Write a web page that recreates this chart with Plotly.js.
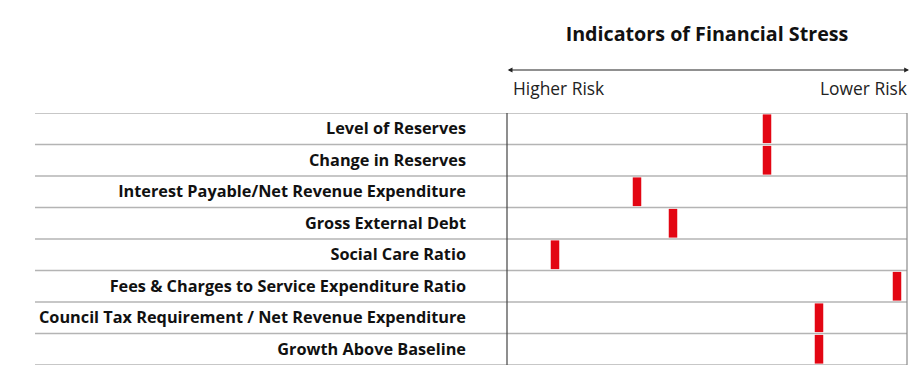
<!DOCTYPE html>
<html>
<head>
<meta charset="utf-8">
<script src="https://cdn.plot.ly/plotly-3.0.1.min.js"></script>
<style>html,body{margin:0;padding:0;background:#fff;}#chart{width:923px;height:378px;}</style>
</head>
<body>
<div id="chart"></div>
<script>
const indicators = [
  "Level of Reserves",
  "Change in Reserves",
  "Interest Payable/Net Revenue Expenditure",
  "Gross External Debt",
  "Social Care Ratio",
  "Fees & Charges to Service Expenditure Ratio",
  "Council Tax Requirement / Net Revenue Expenditure",
  "Growth Above Baseline"
];
const position = [65, 65, 32.5, 41.5, 12, 97.5, 78, 78];
const chartTitle = "Indicators of Financial Stress";
const leftLabel = "Higher Risk";
const rightLabel = "Lower Risk";

const FONT = "Open Sans, Noto Sans, sans-serif";

const shapes = [];
for (let i = 0; i <= indicators.length; i++) {
  shapes.push({type: 'line', xref: 'paper', yref: 'y', x0: -1.18, x1: 1, y0: i - 0.5, y1: i - 0.5,
    line: {color: '#b4b4b4', width: 1.5}, layer: 'below'});
}
shapes.push({type: 'line', xref: 'paper', yref: 'paper', x0: 0, x1: 0, y0: 0, y1: 1, line: {color: '#444', width: 1.2}});
shapes.push({type: 'line', xref: 'paper', yref: 'paper', x0: 1, x1: 1, y0: 0, y1: 1, line: {color: '#8a8a8a', width: 1.2}});

const trace = {
  type: 'scatter', mode: 'markers',
  x: position, y: indicators,
  marker: {symbol: 'line-ns-open', size: 20.5, color: '#e30613', line: {color: '#e30613', width: 8.5}},
  hoverinfo: 'x+y', cliponaxis: false
};

const layout = {
  width: 923, height: 378,
  margin: {l: 507, r: 16, t: 113, b: 13},
  paper_bgcolor: '#fff', plot_bgcolor: '#fff',
  showlegend: false,
  title: {text: '<b>' + chartTitle + '</b>', font: {family: FONT, size: 19.7, color: '#111'},
    x: 707 / 923, xanchor: 'center', y: 1 - 34 / 378, yanchor: 'middle'},
  xaxis: {range: [0, 100], autorange: false, showgrid: false, zeroline: false, showticklabels: false, showline: false, fixedrange: true},
  yaxis: {type: 'category', categoryorder: 'array', categoryarray: indicators, autorange: false,
    range: [indicators.length - 0.5, -0.5],
    showgrid: false, zeroline: false, showline: false, ticks: '', ticklen: 0,
    tickfont: {family: FONT, size: 16.3, color: '#111', weight: 'bold'}, ticklabelstandoff: 40, fixedrange: true},
  shapes: shapes,
  annotations: [
    {xref: 'paper', yref: 'paper', x: 1.005, y: 1 + 43 / 252, axref: 'paper', ayref: 'paper',
      showarrow: true, arrowhead: 2, arrowside: 'end+start', arrowsize: 0.8, arrowwidth: 1.2, arrowcolor: '#222',
      text: '', ax: -0.002, ay: 1 + 43 / 252},
    {xref: 'paper', yref: 'paper', x: 0.01, y: 1 + 25 / 252, xanchor: 'left', yanchor: 'middle', showarrow: false,
      text: leftLabel, font: {family: FONT, size: 17.4, color: '#222'}},
    {xref: 'paper', yref: 'paper', x: 1.005, y: 1 + 25 / 252, xanchor: 'right', yanchor: 'middle', showarrow: false,
      text: rightLabel, font: {family: FONT, size: 17.4, color: '#222'}}
  ]
};

Plotly.newPlot('chart', [trace], layout, {displayModeBar: false, staticPlot: true});
</script>
</body>
</html>
